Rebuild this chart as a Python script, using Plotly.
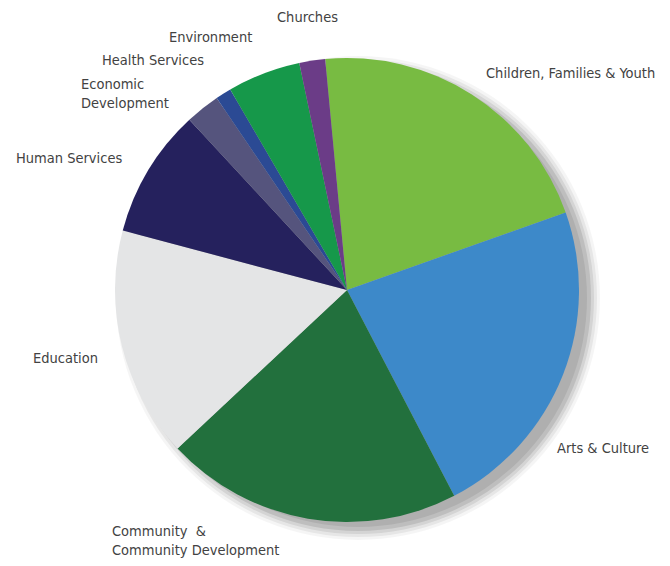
import plotly.graph_objects as go

# ---- data ----
categories = ["Children, Families & Youth", "Arts & Culture", "Community & Community Development",
              "Education", "Human Services", "Economic Development", "Health Services",
              "Environment", "Churches"]
values = [21.1, 22.8, 20.7, 16.1, 9.0, 2.4, 1.1, 5.1, 1.8]
colors = ["#78bb42", "#3d89c9", "#22703d", "#e4e5e6", "#25215d", "#55547d", "#2b4a94",
          "#16984a", "#6b3c87"]

# label texts with their pixel anchor in the reference (left edge, vertical centre)
label_texts = ["Churches", "Environment", "Health Services", "Economic<br>Development",
               "Human Services", "Children, Families & Youth", "Education", "Arts & Culture",
               "Community  &<br>Community Development"]
label_px = [(275, 17), (167, 37), (100, 60), (79, 93), (14, 158), (484, 73), (31, 358),
            (555, 448), (110, 540)]

OFF = 8                      # page body margin of the browser
W, H = 670 - 2 * OFF, 566 - 2 * OFF
cx, cy, r = 347 - OFF, 290 - OFF, 232

def px(x, y):
    return x / W, 1 - y / H

fig = go.Figure()
fig.add_trace(go.Pie(
    labels=categories, values=values, sort=False, direction="clockwise", rotation=-5.4,
    marker=dict(colors=colors, line=dict(width=0)),
    textinfo="none", hoverinfo="label+percent", showlegend=False,
    domain=dict(x=[(cx - r) / W, (cx + r) / W], y=[1 - (cy + r) / H, 1 - (cy - r) / H]),
))

# soft shadow behind the pie (lower right)
shapes = []
for dr, op in [(10, 0.04), (7, 0.06), (4, 0.08), (1, 0.10), (-3, 0.08)]:
    ox, oy = cx + 11, cy + 8
    x0, y1 = px(ox - r - dr, oy - r - dr)
    x1, y0 = px(ox + r + dr, oy + r + dr)
    shapes.append(dict(type="circle", xref="paper", yref="paper", x0=x0, x1=x1, y0=y0, y1=y1,
                       fillcolor="rgba(0,0,0,%.2f)" % op, line=dict(width=0), layer="below"))

annotations = []
for t, (lx, ly) in zip(label_texts, label_px):
    ax, ay = px(lx - OFF, ly - OFF)
    annotations.append(dict(text=t, x=ax, y=ay, xref="paper", yref="paper", showarrow=False,
                            xanchor="left", yanchor="middle", align="left",
                            font=dict(size=14.5, color="#424242")))

fig.update_layout(
    width=W, height=H, margin=dict(l=0, r=0, t=0, b=0),
    paper_bgcolor="white", plot_bgcolor="white",
    font=dict(family="DejaVu Sans Condensed, Roboto, sans-serif"),
    shapes=shapes, annotations=annotations,
)
fig.write_html("out.html")
